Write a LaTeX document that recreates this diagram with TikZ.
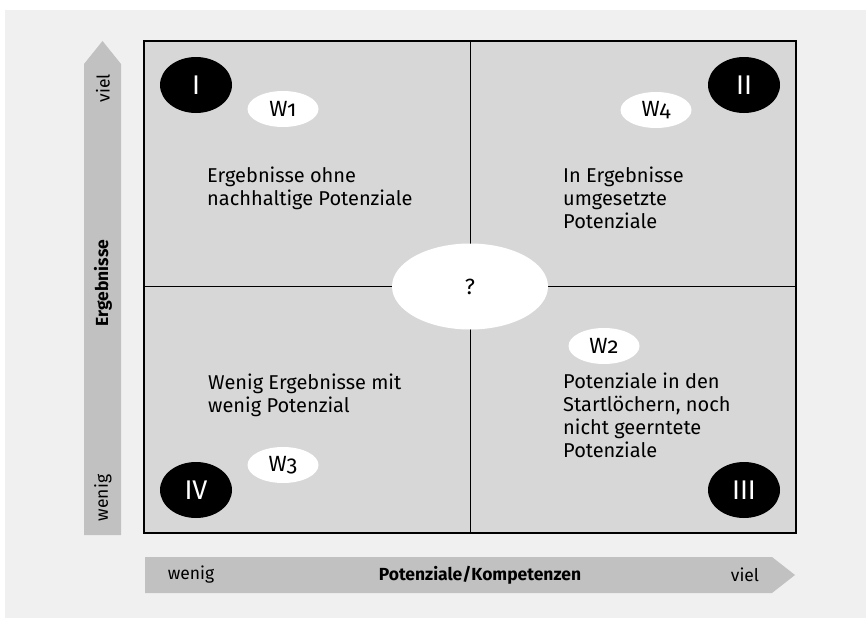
\documentclass[tikz,border=0pt]{standalone}
\usepackage{fontspec}
\setmainfont{Fira Sans}[Numbers=OldStyle]
\usetikzlibrary{shapes.geometric}
\definecolor{panelgray}{gray}{0.94}
\definecolor{boxgray}{gray}{0.845}
\definecolor{arrowgray}{gray}{0.755}
\tikzset{
   quadtext/.style={anchor=base west, align=left, inner sep=0pt,
      font=\fontsize{20}{23}\selectfont},
   numeral/.style={ellipse, fill=black, text=white, inner sep=0pt,
      minimum width=72pt, minimum height=56pt,
      font=\fontsize{27}{27}\selectfont},
   weight/.style={ellipse, fill=white, inner sep=0pt,
      minimum width=71pt, minimum height=36pt,
      font=\fontsize{22}{22}\selectfont},
   axistext/.style={inner sep=0pt, font=\fontsize{17.5}{17.5}\selectfont},
   axisarrow/.style={fill=arrowgray},
    }

\begin{document}
\begin{tikzpicture}[x=1pt,y=-1pt]
            \useasboundingbox (0,0) rectangle (866,618);
            \fill[panelgray] (5,10) rectangle (866,618);
            % axes
            \fill[axisarrow] (84,535) -- (84,64) -- (102.5,41) -- (121,64) -- (121,535) -- cycle;
            \fill[axisarrow] (145,557) -- (772,557) -- (795,575) -- (772,593) -- (145,593) -- cycle;
            \node[axistext, rotate=90] (yhigh) at (103,88) {viel};
            \node[axistext, rotate=90, font=\fontsize{17.5}{17.5}\selectfont\bfseries] (ylabel) at (103,283) {Ergebnisse};
            \node[axistext, rotate=90] (ylow) at (103,498) {wenig};
            \node[axistext] (xlow) at (191,575) {wenig};
            \node[axistext, font=\fontsize{17.5}{17.5}\selectfont\bfseries] (xlabel) at (480,575) {Potenziale/Kompetenzen};
            \node[axistext] (xhigh) at (745,575) {viel};
            % matrix
            \draw[fill=boxgray, line width=1.8pt] (144,41) rectangle (796,533);
            \draw[line width=1pt] (470,41) -- (470,533);
            \draw[line width=1pt] (144,286.5) -- (796,286.5);
            \node[weight, minimum width=156pt, minimum height=86pt] (center) at (470,286.5) {?};
            % quadrants
            \node[numeral] (one) at (196,85) {I};
            \node[numeral] (two) at (744,85) {II};
            \node[numeral] (four) at (196,490) {IV};
            \node[numeral] (three) at (744,490) {III};
            \node[weight] (w1) at (283,109) {W1};
            \node[weight] (w4) at (656,110) {W4};
            \node[weight] (w3) at (283,465) {W3};
            \node[weight] (w2) at (604,346) {W2};
            \node[quadtext] (q1) at (207,205) {Ergebnisse ohne\\nachhaltige Potenziale};
            \node[quadtext] (q2) at (563,228) {In Ergebnisse\\umgesetzte\\Potenziale};
            \node[quadtext] (q4) at (208,412) {Wenig Ergebnisse mit\\wenig Potenzial};
            \node[quadtext] (q3) at (563,457) {Potenziale in den\\Startlöchern, noch\\nicht geerntete\\Potenziale};
        \end{tikzpicture}
\end{document}
